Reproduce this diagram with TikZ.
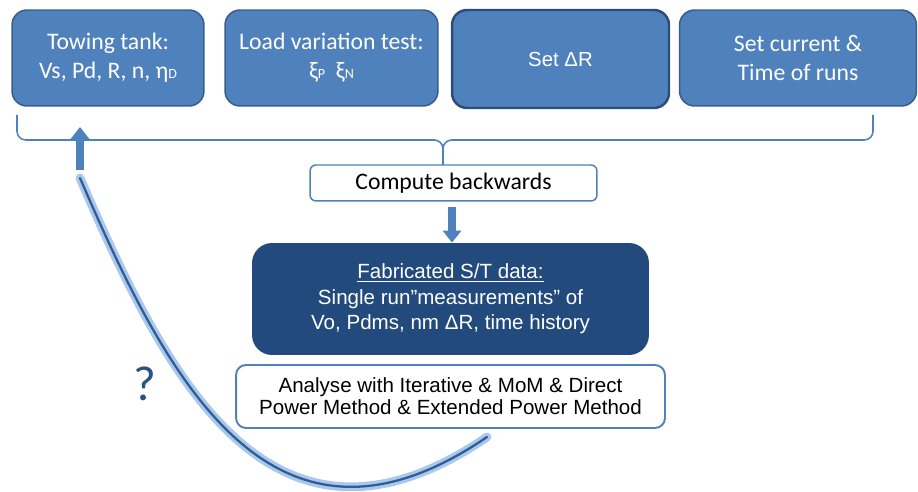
\documentclass[tikz,border=0pt]{standalone}
\usepackage{fontspec}
\setmainfont{Carlito}
\newfontfamily\arialfont{Liberation Sans}
\usetikzlibrary{arrows.meta}

\definecolor{boxblue}{HTML}{4F81BD}
\definecolor{boxedge}{HTML}{385D8A}
\definecolor{darkedge}{HTML}{2C4D75}
\definecolor{fabblue}{HTML}{234A7C}
\definecolor{glowblue}{HTML}{A9C8EC}
\definecolor{curveblue}{HTML}{2F5E96}
\definecolor{qblue}{HTML}{2A5286}

\newcommand{\smallsub}[1]{{\fontsize{8}{8}\selectfont #1}}

\begin{document}
\begin{tikzpicture}[
  x=0.02cm, y=-0.02cm,
  topbox/.style={rectangle, rounded corners=0.3cm, draw=boxedge, line width=0.85pt, fill=boxblue, text=white, minimum height=1.92cm, align=center, font=\fontsize{13.5}{16.5}\selectfont},
  whitebox/.style={rectangle, draw=boxblue, fill=white, align=center},
  bracket/.style={draw=boxblue, line width=0.9pt, rounded corners=5pt},
  blockarrow/.style={draw=boxblue, line width=0.16cm, -{Triangle[width=0.36cm,length=0.24cm]}},
  glow/.style={line cap=round}
]
\useasboundingbox (0,0) rectangle (918,492);

\node[topbox, minimum width=3.84cm] (tow) at (108,58) {Towing tank:\\Vs, Pd, R, n, η\smallsub{D}};
\node[topbox, minimum width=4.26cm] (load) at (331.5,58) {Load variation test:\\ξ\smallsub{P}\ \ ξ\smallsub{N}};
\node[topbox, minimum width=4.34cm, minimum height=1.96cm, draw=darkedge, line width=1.4pt, font=\arialfont\fontsize{11.6}{14}\selectfont] (setdr) at (560.5,59) {Set ΔR};
\node[topbox, minimum width=4.74cm] (cur) at (798,58) {Set current \&\\Time of runs};

\node[whitebox, rounded corners=0.12cm, line width=0.85pt, minimum width=5.74cm, minimum height=0.72cm, font=\fontsize{13.5}{16.5}\selectfont] (comp) at (453.5,183) {Compute backwards};
\node[rectangle, rounded corners=0.4cm, fill=fabblue, text=white, align=center, minimum width=7.94cm, minimum height=2.24cm, font=\arialfont\fontsize{11.7}{14.5}\selectfont] (fab) at (450.5,299) {\underline{Fabricated S/T data:}\\Single run”measurements” of\\Vo, Pdms, nm ΔR, time history};
\node[whitebox, rounded corners=0.2cm, line width=1.1pt, minimum width=8.58cm, minimum height=1.26cm, font=\arialfont\fontsize{11.7}{12.5}\selectfont] (ana) at (450.5,396.5) {Analyse with Iterative \& MoM \& Direct\\Power Method \& Extended Power Method};

% Bracket
\coordinate (bl) at (17,115);
\coordinate (br) at (873,115);
\coordinate (bc) at (443,165);
\draw[bracket] (bl) |- (443,140) -- (bc);
\draw[bracket] (br) |- (443,140) -- (bc);

% Arrows
\draw[blockarrow] (comp.south -| 452,0) ++(0,5) -- (fab.north -| 452,0);
\coordinate (qs) at (80,170);
\coordinate (qt) at (80,127);
\draw[blockarrow] (qs) -- (qt);

% Feedback curve
\coordinate (cs) at (487,437);
\coordinate (ce) at (80,178);
\draw[glow, glowblue, line width=5pt] (cs) .. controls (270,585) and (165,375) .. (ce);
\draw[glow, curveblue, line width=1.3pt] (cs) .. controls (270,585) and (165,375) .. (ce);
\node[text=qblue, font=\fontsize{28}{32}\selectfont] (q) at (145,384) {?};

\end{tikzpicture}
\end{document}
